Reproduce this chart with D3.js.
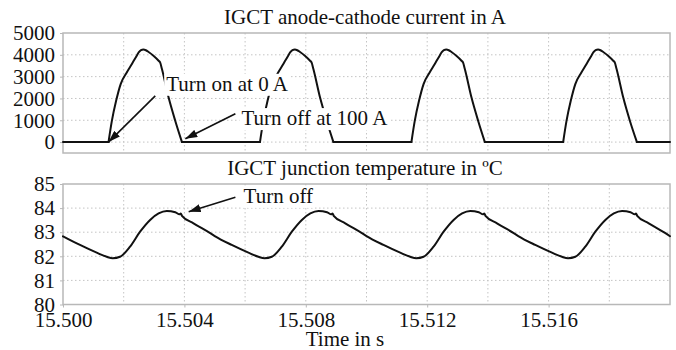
<!DOCTYPE html>
<html>
<head>
<meta charset="utf-8">
<script src="https://cdn.jsdelivr.net/npm/d3@7"></script>
<style>
  html, body { margin: 0; padding: 0; background: #fff; }
  svg { display: block; font-family: "Liberation Serif", "Times New Roman", serif; }
</style>
</head>
<body>
<svg id="chart" width="676" height="350"></svg>
<script>
// ---------- data ----------
const xTickLabels = [15.500, 15.504, 15.508, 15.512, 15.516];
const currentTicks = [0, 1000, 2000, 3000, 4000, 5000];
const tempTicks = [80, 81, 82, 83, 84, 85];

const currentTimeS = [
  15.50000,
  15.50150, 15.50161, 15.50175, 15.50190, 15.50210, 15.50227, 15.50232, 15.50243, 15.50250, 15.50257, 15.50265, 15.50273, 15.50282, 15.50298, 15.50315, 15.50320, 15.50326, 15.50348, 15.50370, 15.50392,
  15.50649, 15.50660, 15.50674, 15.50689, 15.50709, 15.50726, 15.50731, 15.50742, 15.50749, 15.50756, 15.50764, 15.50772, 15.50781, 15.50797, 15.50814, 15.50819, 15.50825, 15.50847, 15.50869, 15.50891,
  15.51148, 15.51159, 15.51173, 15.51188, 15.51208, 15.51225, 15.51230, 15.51241, 15.51248, 15.51255, 15.51263, 15.51271, 15.51280, 15.51296, 15.51313, 15.51318, 15.51324, 15.51346, 15.51368, 15.51390,
  15.51648, 15.51659, 15.51673, 15.51688, 15.51708, 15.51725, 15.51730, 15.51741, 15.51748, 15.51755, 15.51763, 15.51771, 15.51780, 15.51796, 15.51813, 15.51818, 15.51824, 15.51846, 15.51868, 15.51891,
  15.52000
];
const currentA = [
  0,
  0, 970, 1890, 2660, 3190, 3580, 3700, 3960, 4120, 4210, 4240, 4210, 4130, 3960, 3730, 3650, 3350, 2040, 970, 0,
  0, 970, 1890, 2660, 3190, 3580, 3700, 3960, 4120, 4210, 4240, 4210, 4130, 3960, 3730, 3650, 3350, 2040, 970, 0,
  0, 970, 1890, 2660, 3190, 3580, 3700, 3960, 4120, 4210, 4240, 4210, 4130, 3960, 3730, 3650, 3350, 2040, 970, 0,
  0, 970, 1890, 2660, 3190, 3580, 3700, 3960, 4120, 4210, 4240, 4210, 4130, 3960, 3730, 3650, 3350, 2040, 970, 0,
  0
];

const tempTimeS = [
  15.50000, 15.50056, 15.50111, 15.50144, 15.50164, 15.50188, 15.50221, 15.50254, 15.50287, 15.50315, 15.50342, 15.50370, 15.50384, 15.50388, 15.50392, 15.50430, 15.50485,
  15.50500, 15.50556, 15.50611, 15.50644, 15.50664, 15.50688, 15.50721, 15.50754, 15.50787, 15.50815, 15.50842, 15.50870, 15.50884, 15.50888, 15.50892, 15.50930, 15.50985,
  15.51000, 15.51056, 15.51111, 15.51144, 15.51164, 15.51188, 15.51221, 15.51254, 15.51287, 15.51315, 15.51342, 15.51370, 15.51384, 15.51388, 15.51392, 15.51430, 15.51485,
  15.51500, 15.51556, 15.51611, 15.51644, 15.51664, 15.51688, 15.51721, 15.51754, 15.51787, 15.51815, 15.51842, 15.51870, 15.51884, 15.51888, 15.51892, 15.51930, 15.51985,
  15.52000
];
const tempC = [
  82.83, 82.47, 82.15, 81.98, 81.92, 81.98, 82.40, 83.02, 83.51, 83.78, 83.88, 83.83, 83.74, 83.78, 83.68, 83.37, 82.96,
  82.84, 82.47, 82.15, 81.98, 81.92, 81.98, 82.40, 83.02, 83.51, 83.78, 83.88, 83.83, 83.74, 83.78, 83.68, 83.37, 82.96,
  82.84, 82.47, 82.15, 81.98, 81.92, 81.98, 82.40, 83.02, 83.51, 83.78, 83.88, 83.83, 83.74, 83.78, 83.68, 83.37, 82.96,
  82.84, 82.47, 82.15, 81.98, 81.92, 81.98, 82.40, 83.02, 83.51, 83.78, 83.88, 83.83, 83.74, 83.78, 83.68, 83.37, 82.96,
  82.83
];

// annotations in data coordinates: [label, textX, textY, tailX, tailY, tipX, tipY]
const currentNotes = [
  ["Turn on at 0 A",    15.50340, 2350, 15.50304, 2120, 15.50150, 0],
  ["Turn off at 100 A", 15.50588, 780,  15.50568, 1300, 15.50403, 150]
];
const tempNotes = [
  ["Turn off", 15.50595, 84.22, 15.50568, 84.45, 15.50414, 83.85]
];

// ---------- layout ----------
const svg = d3.select("#chart");
const L = 63, R = 670;
const top1 = 33, bot1 = 153;
const top2 = 184, bot2 = 304.5;
const FS = 21;
const ink = "#111";
const frameCol = "#b8b8b8";
const gridCol = "#c4c4c4";

const x = d3.scaleLinear().domain([15.500, 15.520]).range([L, R]);
const yI = d3.scaleLinear().domain([-500, 5000]).range([bot1, top1]);
const yT = d3.scaleLinear().domain([80, 85]).range([bot2, top2]);

svg.append("defs").append("marker")
  .attr("id", "arrow")
  .attr("viewBox", "0 0 12 8")
  .attr("refX", 12).attr("refY", 4)
  .attr("markerWidth", 12).attr("markerHeight", 8)
  .attr("markerUnits", "userSpaceOnUse")
  .attr("orient", "auto")
  .append("path").attr("d", "M0,0 L12,4 L0,8 Z").attr("fill", ink);

// split a series into flat-zero runs (straight) and pulse runs (smooth)
function segmentsOf(pts, splitZero) {
  if (!splitZero) return [{ pts, curve: d3.curveMonotoneX }];
  const segs = [];
  let i = 0;
  while (i < pts.length - 1) {
    if (pts[i + 1][1] > 0) {
      let j = i + 1;
      while (j < pts.length - 1 && pts[j][1] > 0) j++;
      segs.push({ pts: pts.slice(i, j + 1), curve: d3.curveMonotoneX });
      i = j;
    } else {
      let j = i;
      while (j < pts.length - 1 && pts[j + 1][1] === 0) j++;
      segs.push({ pts: pts.slice(i, j + 1), curve: d3.curveLinear });
      i = j;
    }
  }
  return segs;
}

function panel(y, top, bot, ticks, title, times, vals, notes, splitZero, showX) {
  const g = svg.append("g");
  // grid
  g.append("g").selectAll("line").data(x.ticks(10).slice(1, -1)).join("line")
    .attr("x1", d => x(d)).attr("x2", d => x(d)).attr("y1", top).attr("y2", bot)
    .attr("stroke", gridCol).attr("stroke-width", 1).attr("stroke-dasharray", "1.5,2.5");
  g.append("g").selectAll("line").data(ticks.filter(t => y(t) > top + 1)).join("line")
    .attr("x1", L).attr("x2", R).attr("y1", d => y(d)).attr("y2", d => y(d))
    .attr("stroke", gridCol).attr("stroke-width", 1).attr("stroke-dasharray", "1.5,2.5");
  // frame
  g.append("rect").attr("x", L).attr("y", top).attr("width", R - L).attr("height", bot - top)
    .attr("fill", "none").attr("stroke", frameCol).attr("stroke-width", 1.5);
  // y axis
  const ya = g.append("g").attr("transform", `translate(${L},0)`)
    .call(d3.axisLeft(y).tickValues(ticks).tickSize(3).tickPadding(5).tickFormat(d3.format("d")));
  ya.select(".domain").remove();
  ya.selectAll("line").attr("stroke", frameCol);
  ya.selectAll("text").attr("font-size", FS).attr("fill", ink).attr("font-family", "Liberation Serif");
  // x axis
  if (showX) {
    const xa = g.append("g").attr("transform", `translate(0,${bot})`)
      .call(d3.axisBottom(x).tickValues(xTickLabels).tickSize(3).tickPadding(6).tickFormat(d3.format(".3f")));
    xa.select(".domain").remove();
    xa.selectAll("line").attr("stroke", frameCol);
    xa.selectAll("text").attr("font-size", FS).attr("fill", ink).attr("font-family", "Liberation Serif")
      .attr("dy", "0.66em");
  }
  // title
  g.append("text").attr("x", 365).attr("y", top - 9).attr("text-anchor", "middle")
    .attr("font-size", FS).attr("fill", ink).text(title);
  // line
  const pts = times.map((t, i) => [t, vals[i]]);
  segmentsOf(pts, splitZero).forEach(s => {
    g.append("path").datum(s.pts)
      .attr("d", d3.line().x(d => x(d[0])).y(d => y(d[1])).curve(s.curve))
      .attr("fill", "none").attr("stroke", ink).attr("stroke-width", 2)
      .attr("stroke-linejoin", "round").attr("stroke-linecap", "round");
  });
  // annotations
  notes.forEach(n => {
    const t = g.append("text").attr("x", x(n[1])).attr("y", y(n[2]))
      .attr("font-size", FS).attr("fill", ink).text(n[0]);
    const bb = t.node().getBBox();
    g.insert("rect", () => t.node())
      .attr("x", bb.x - 2).attr("y", bb.y + 2).attr("width", bb.width + 4).attr("height", bb.height - 2)
      .attr("fill", "#fff");
    g.append("line").attr("x1", x(n[3])).attr("y1", y(n[4])).attr("x2", x(n[5])).attr("y2", y(n[6]))
      .attr("stroke", ink).attr("stroke-width", 1.6).attr("marker-end", "url(#arrow)");
  });
}

panel(yI, top1, bot1, currentTicks, "IGCT anode-cathode current in A",
      currentTimeS, currentA, currentNotes, true, false);
panel(yT, top2, bot2, tempTicks, "IGCT junction temperature in ºC",
      tempTimeS, tempC, tempNotes, false, true);

svg.append("text").attr("x", 345).attr("y", 346).attr("text-anchor", "middle")
  .attr("font-size", FS).attr("fill", ink).text("Time in s");
</script>
</body>
</html>
